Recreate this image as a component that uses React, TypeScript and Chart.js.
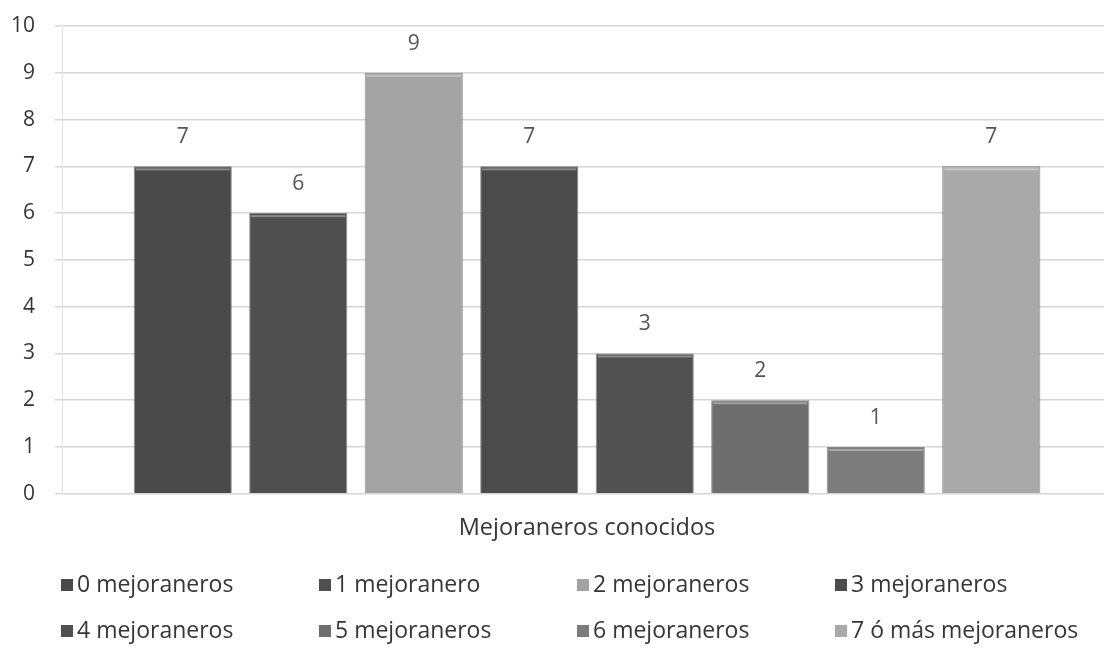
import React, { useEffect, useRef } from "react";
import { Chart, registerables } from "chart.js";

Chart.register(...registerables);

const categories = [""];
const axisTitle = "Mejoraneros conocidos";
const seriesNames = [
  "0 mejoraneros",
  "1 mejoranero",
  "2 mejoraneros",
  "3 mejoraneros",
  "4 mejoraneros",
  "5 mejoraneros",
  "6 mejoraneros",
  "7 ó más mejoraneros",
];
const seriesValues = [7, 6, 9, 7, 3, 2, 1, 7];
const seriesColors = [
  "#4a4a4a",
  "#4f4f4f",
  "#a3a3a3",
  "#4b4b4b",
  "#515151",
  "#6e6e6e",
  "#7c7c7c",
  "#a9a9a9",
];
const yMin = 0;
const yMax = 10;
const yStep = 1;

const FONT = "'Open Sans', 'DejaVu Sans', sans-serif";
const TEXT = "#363636";

const valueLabelPlugin = {
  id: "valueLabels",
  afterDatasetsDraw(chart: any) {
    const ctx = chart.ctx;
    ctx.save();
    chart.data.datasets.forEach((ds: any, i: number) => {
      const meta = chart.getDatasetMeta(i);
      meta.data.forEach((el: any, j: number) => {
        const w = el.width;
        ctx.fillStyle = "rgba(255,255,255,0.35)";
        ctx.fillRect(el.x - w / 2 + 2, el.y + 2, w - 4, 2);
        ctx.font = `21px ${FONT}`;
        ctx.fillStyle = "#555555";
        ctx.textAlign = "center";
        ctx.textBaseline = "middle";
        ctx.fillText(String(ds.data[j]), el.x, el.y - 29);
      });
    });
    ctx.restore();
  },
};

const gridLegendPlugin = {
  id: "gridLegend",
  afterDraw(chart: any) {
    const ctx = chart.ctx;
    ctx.save();
    ctx.font = `23px ${FONT}`;
    ctx.textBaseline = "middle";
    ctx.textAlign = "left";
    const x0 = 61;
    const pitch = 258;
    const rowY = [585, 631];
    chart.data.datasets.forEach((ds: any, i: number) => {
      const col = i % 4;
      const row = Math.floor(i / 4);
      const x = x0 + col * pitch;
      const y = rowY[row];
      ctx.fillStyle = ds.backgroundColor;
      ctx.fillRect(x, y - 6, 12, 12);
      ctx.fillStyle = TEXT;
      ctx.fillText(ds.label, x + 16, y);
    });
    ctx.restore();
  },
};

export default function App() {
  const ref = useRef<HTMLCanvasElement | null>(null);

  useEffect(() => {
    if (!ref.current) return;
    const chart = new Chart(ref.current, {
      type: "bar",
      data: {
        labels: categories,
        datasets: seriesNames.map((name, i) => ({
          label: name,
          data: [seriesValues[i]],
          backgroundColor: seriesColors[i],
          borderColor: "rgba(40,40,40,0.5)",
          borderWidth: 1,
          categoryPercentage: 0.88,
          barPercentage: 0.85,
        })),
      },
      options: {
        responsive: false,
        animation: false,
        devicePixelRatio: 1,
        layout: { padding: { top: 26, bottom: 104, left: 0, right: 0 } },
        plugins: {
          legend: { display: false },
          tooltip: { enabled: false },
        },
        scales: {
          x: {
            grid: { display: false, drawTicks: false },
            border: { display: false },
            ticks: { display: false },
            title: {
              display: true,
              text: axisTitle,
              color: TEXT,
              font: { family: FONT, size: 23.5 },
              padding: { top: 20, bottom: 4 },
            },
          },
          y: {
            min: yMin,
            max: yMax,
            afterFit(scale: any) {
              scale.width = 62;
              scale.paddingTop = 13;
              scale.paddingBottom = 13;
            },
            ticks: {
              stepSize: yStep,
              color: TEXT,
              font: { family: FONT, size: 21 },
              padding: 20,
            },
            grid: {
              color: "#d6d6d6",
              lineWidth: 1.5,
              tickLength: 7,
              drawTicks: true,
            },
            border: { display: true, color: "#e2e2e2" },
          },
        },
      },
      plugins: [valueLabelPlugin, gridLegendPlugin],
    });
    return () => chart.destroy();
  }, []);

  return (
    <div
      style={{
        position: "absolute",
        left: 0,
        top: 0,
        width: 1104,
        height: 650,
        overflow: "hidden",
        background: "#ffffff",
      }}
    >
      <canvas ref={ref} width={1112} height={650} style={{ display: "block" }} />
    </div>
  );
}
